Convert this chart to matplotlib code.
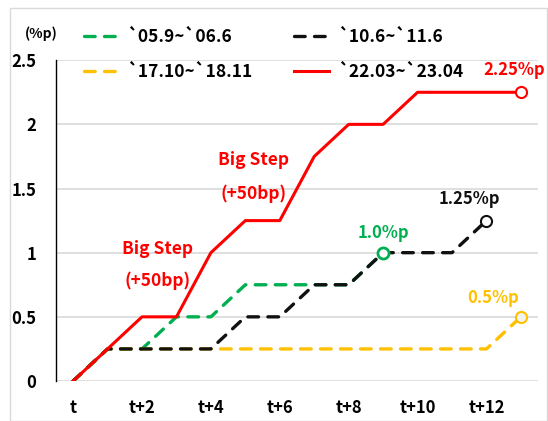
import matplotlib.pyplot as plt
from matplotlib.patches import Rectangle

plt.rcParams['font.family'] = ['Noto Sans CJK KR', 'DejaVu Sans']
plt.rcParams['font.weight'] = 'bold'

# months after first hike
x = list(range(14))
x_labels = ['t', '', 't+2', '', 't+4', '', 't+6', '', 't+8', '', 't+10', '', 't+12', '']

# cumulative hikes (%p)
hike_05 = [0, 0.25, 0.25, 0.5, 0.5, 0.75, 0.75, 0.75, 0.75, 1.0]
hike_10 = [0, 0.25, 0.25, 0.25, 0.25, 0.5, 0.5, 0.75, 0.75, 1.0, 1.0, 1.0, 1.25]
hike_17 = [0, 0.25, 0.25, 0.25, 0.25, 0.25, 0.25, 0.25, 0.25, 0.25, 0.25, 0.25, 0.25, 0.5]
hike_22 = [0, 0.25, 0.5, 0.5, 1.0, 1.25, 1.25, 1.75, 2.0, 2.0, 2.25, 2.25, 2.25, 2.25]

GREEN = '#00b050'
BLACK = '#111111'
YELLOW = '#ffc000'
RED = '#ff0000'

fig = plt.figure(figsize=(5.48, 4.21), dpi=100)
ax = fig.add_axes([0.102, 0.095, 0.880, 0.762])

dash = (0, (3.2, 2.8))
l05, = ax.plot(x[:len(hike_05)], hike_05, color=GREEN, lw=2.4, ls=dash, dash_capstyle='round',
               label='`05.9~`06.6', zorder=3)
l10, = ax.plot(x[:len(hike_10)], hike_10, color=BLACK, lw=2.4, ls=dash, dash_capstyle='round',
               label='`10.6~`11.6', zorder=4)
l17, = ax.plot(x[:len(hike_17)], hike_17, color=YELLOW, lw=2.4, ls=dash, dash_capstyle='round',
               label='`17.10~`18.11', zorder=3)
l22, = ax.plot(x[:len(hike_22)], hike_22, color=RED, lw=2.2, label='`22.03~`23.04', zorder=5)

# end markers
ax.plot(len(hike_05) - 1, hike_05[-1], 'o', ms=8, mfc='white', mec=GREEN, mew=2, zorder=6)
ax.plot(len(hike_10) - 1, hike_10[-1], 'o', ms=8, mfc='white', mec=BLACK, mew=1.5, zorder=6)
ax.plot(len(hike_17) - 1, hike_17[-1], 'o', ms=8, mfc='#f2f2f2', mec=YELLOW, mew=1.5, zorder=6)
ax.plot(len(hike_22) - 1, hike_22[-1], 'o', ms=8, mfc='white', mec=RED, mew=1.5, zorder=6)

# end labels
ax.text(len(hike_22) - 1.2, hike_22[-1] + 0.1, '2.25%p', color=RED, fontsize=12, ha='center', va='bottom')
ax.text(len(hike_10) - 1.5, hike_10[-1] + 0.1, '1.25%p', color=BLACK, fontsize=12, ha='center', va='bottom')
ax.text(len(hike_05) - 1, hike_05[-1] + 0.08, '1.0%p', color=GREEN, fontsize=12, ha='center', va='bottom')
ax.text(len(hike_17) - 1.8, hike_17[-1] + 0.08, '0.5%p', color=YELLOW, fontsize=12, ha='center', va='bottom')

# big step notes
ax.text(2.45, 1.03, 'Big Step', color=RED, fontsize=12.5, ha='center', va='center')
ax.text(2.45, 0.78, '(+50bp)', color=RED, fontsize=12.5, ha='center', va='center')
ax.text(5.25, 1.72, 'Big Step', color=RED, fontsize=12.5, ha='center', va='center')
ax.text(5.25, 1.46, '(+50bp)', color=RED, fontsize=12.5, ha='center', va='center')

ax.set_xlim(-0.5, 13.5)
ax.set_ylim(0, 2.5)
ax.set_yticks([0, 0.5, 1, 1.5, 2, 2.5])
ax.set_yticklabels(['0', '0.5', '1', '1.5', '2', '2.5'])
ax.set_xticks(x)
ax.set_xticklabels(x_labels)
ax.tick_params(axis='both', length=0, labelsize=12)
ax.tick_params(axis='x', pad=13)
ax.tick_params(axis='y', pad=14)
ax.grid(axis='y', color='#d9d9d9', lw=1.2)
ax.set_axisbelow(True)
for side in ['top', 'right', 'bottom']:
    ax.spines[side].set_visible(False)
ax.spines['left'].set_color('black')
ax.spines['left'].set_linewidth(1)

fig.text(0.045, 0.92, '(%p)', fontsize=10, ha='left', va='center')

# column-wise fill: left column green/yellow, right column black/red
fig.legend(handles=[l05, l17, l10, l22], loc='upper left', bbox_to_anchor=(0.125, 0.97), ncol=2,
           frameon=False, fontsize=12.5, handlelength=2.0, handletextpad=0.5, columnspacing=2.4,
           labelspacing=0.95)

fig.patches.append(Rectangle((0.018, 0.0), 0.98, 0.98, transform=fig.transFigure,
                             fill=False, edgecolor='#d9d9d9', lw=1))

fig.savefig('out.png', dpi=100)
